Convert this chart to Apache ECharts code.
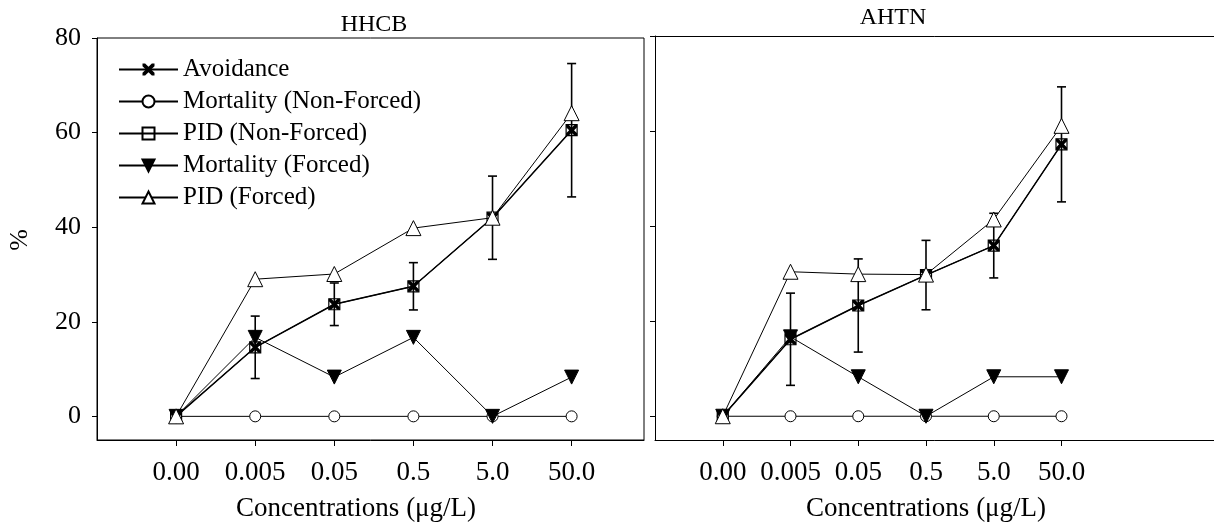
<!DOCTYPE html>
<html>
<head>
<meta charset="utf-8">
<script src="https://cdn.jsdelivr.net/npm/echarts@6/dist/echarts.min.js"></script>
<style>
html,body{margin:0;padding:0;background:#fff;overflow:hidden;}
#chart{width:1214px;height:526px;}
</style>
</head>
<body>
<div id="chart"></div>
<script>
// ---- data ----
const categories = ['0.00', '0.005', '0.05', '0.5', '5.0', '50.0'];
const yTicks = [0, 20, 40, 60, 80];
const seriesNames = ['Avoidance', 'Mortality (Non-Forced)', 'PID (Non-Forced)', 'Mortality (Forced)', 'PID (Forced)'];

const hhcbAvoidance = [0, 14.6, 23.7, 27.5, 42.0, 60.5];
const hhcbMortNF    = [0, 0, 0, 0, 0, 0];
const hhcbPidNF     = [0, 14.6, 23.7, 27.5, 42.0, 60.5];
const hhcbMortF     = [0, 16.7, 8.3, 16.7, 0, 8.3];
const hhcbPidF      = [0, 29.0, 30.1, 39.8, 42.0, 64.1];
const hhcbErr       = [0, 6.6, 4.5, 5.0, 8.8, 14.1];

const ahtnAvoidance = [0, 16.2, 23.3, 29.7, 35.9, 57.2];
const ahtnMortNF    = [0, 0, 0, 0, 0, 0];
const ahtnPidNF     = [0, 16.2, 23.3, 29.7, 35.9, 57.2];
const ahtnMortF     = [0, 16.7, 8.3, 0, 8.3, 8.3];
const ahtnPidF      = [0, 30.4, 29.9, 29.8, 41.4, 61.1];
const ahtnErr       = [0, 9.7, 9.8, 7.3, 6.8, 12.1];

// ---- styling ----
const FONT = 'Liberation Serif';
const crossPath = 'path://M0,0 L2.2,0 L5,2.8 L7.8,0 L10,0 L10,2.2 L7.2,5 L10,7.8 L10,10 L7.8,10 L5,7.2 L2.2,10 L0,10 L0,7.8 L2.8,5 L0,2.2 Z';

function pts(arr) { return arr.map((v, i) => [i, v]); }

function lineSeries(name, values, gi, opts) {
  return Object.assign({
    name: name,
    type: 'line',
    xAxisIndex: gi,
    yAxisIndex: gi,
    data: pts(values),
    showAllSymbol: true,
    animation: false,
    clip: false,
    lineStyle: { color: '#000', width: 1 },
    itemStyle: { color: '#fff', borderColor: '#000', borderWidth: 1 },
    emphasis: { disabled: true }
  }, opts);
}

function panelSeries(gi, av, mnf, pnf, mf, pf, err) {
  return [
    {
      type: 'custom',
      xAxisIndex: gi,
      yAxisIndex: gi,
      z: 1,
      animation: false,
      silent: true,
      clip: false,
      data: av.map((v, i) => [i, v - err[i], v + err[i]]),
      renderItem: function (params, api) {
        const x = api.value(0);
        const lo = api.coord([x, api.value(1)]);
        const hi = api.coord([x, api.value(2)]);
        if (api.value(2) - api.value(1) <= 0) return null;
        const hw = 4.5;
        const st = { stroke: '#000', lineWidth: 1.6, fill: null };
        return {
          type: 'group',
          children: [
            { type: 'line', shape: { x1: lo[0], y1: lo[1], x2: hi[0], y2: hi[1] }, style: st },
            { type: 'line', shape: { x1: lo[0] - hw, y1: lo[1], x2: lo[0] + hw, y2: lo[1] }, style: st },
            { type: 'line', shape: { x1: hi[0] - hw, y1: hi[1], x2: hi[0] + hw, y2: hi[1] }, style: st }
          ]
        };
      }
    },
    lineSeries(seriesNames[1], mnf, gi, { symbol: 'circle', symbolSize: 11, z: 2 }),
    lineSeries(seriesNames[3], mf, gi, { symbol: 'triangle', symbolRotate: 180, symbolSize: 14, z: 3,
      itemStyle: { color: '#000', borderColor: '#000', borderWidth: 1 } }),
    lineSeries(seriesNames[2], pnf, gi, { symbol: 'rect', symbolSize: 11, z: 4,
      itemStyle: { color: 'rgba(255,255,255,0)', borderColor: '#000', borderWidth: 1.2 } }),
    lineSeries(seriesNames[0], av, gi, { symbol: crossPath, symbolSize: 11, z: 5,
      lineStyle: { color: '#000', width: 1.5 },
      itemStyle: { color: '#000', borderColor: '#000', borderWidth: 0 } }),
    lineSeries(seriesNames[4], pf, gi, { symbol: 'triangle', symbolSize: 15, z: 6 })
  ];
}

function xAxisCfg(gi, max) {
  return {
    type: 'value', gridIndex: gi, min: -1, max: max,
    axisLine: { show: true, onZero: false, lineStyle: { color: '#000', width: 1 } },
    axisTick: { show: true, inside: false, length: 6, customValues: categories.map((c, i) => i), lineStyle: { color: '#000' } },
    axisLabel: {
      show: true, margin: 19, customValues: categories.map((c, i) => i),
      formatter: v => categories[Math.round(v)],
      color: '#000', fontFamily: FONT, fontSize: 27
    },
    splitLine: { show: false }
  };
}

// top border line for the right panel (no ticks/labels)
function topBorderAxis(gi, max) {
  return {
    type: 'value', gridIndex: gi, position: 'top', min: -1, max: max,
    axisLine: { show: true, onZero: false, lineStyle: { color: '#000', width: 1 } },
    axisTick: { show: false }, axisLabel: { show: false }, splitLine: { show: false }
  };
}

function yAxisCfg(gi, showLabels) {
  return {
    type: 'value', gridIndex: gi, min: -5, max: 80,
    axisLine: { show: true, onZero: false, lineStyle: { color: '#000', width: 1 } },
    axisTick: { show: true, inside: false, length: 5, customValues: yTicks, lineStyle: { color: '#000' } },
    axisLabel: { show: showLabels, margin: 16, customValues: yTicks, color: '#000', fontFamily: FONT, fontSize: 26 },
    splitLine: { show: false }
  };
}

const rightWidth = 600;
const rightMax = rightWidth / 67.75 - 1;

const chart = echarts.init(document.getElementById('chart'), null, { renderer: 'canvas' });
chart.setOption({
  backgroundColor: '#fff',
  animation: false,
  grid: [
    { left: 97, top: 38, width: 547, height: 402, show: true, borderColor: '#000', borderWidth: 1, backgroundColor: 'transparent', outerBoundsMode: 'none' },
    { left: 655, top: 36, width: rightWidth, height: 404, show: false, outerBoundsMode: 'none' }
  ],
  xAxis: [xAxisCfg(0, 5.915), xAxisCfg(1, rightMax), topBorderAxis(1, rightMax)],
  yAxis: [yAxisCfg(0, true), yAxisCfg(1, false)],
  legend: {
    data: seriesNames,
    orient: 'vertical',
    left: 113,
    top: 52,
    itemWidth: 59,
    itemHeight: 15,
    itemGap: 7,
    selectedMode: false,
    textStyle: { color: '#000', fontFamily: FONT, fontSize: 25, lineHeight: 25 }
  },
  graphic: [
    { type: 'text', x: 374, y: 25, style: { text: 'HHCB', fill: '#000', fontFamily: FONT, fontSize: 24, align: 'center', verticalAlign: 'middle' } },
    { type: 'text', x: 893, y: 18, style: { text: 'AHTN', fill: '#000', fontFamily: FONT, fontSize: 24, align: 'center', verticalAlign: 'middle' } },
    { type: 'text', x: 356, y: 509, style: { text: 'Concentrations (μg/L)', fill: '#000', fontFamily: FONT, fontSize: 27, align: 'center', verticalAlign: 'middle' } },
    { type: 'text', x: 926, y: 509, style: { text: 'Concentrations (μg/L)', fill: '#000', fontFamily: FONT, fontSize: 27, align: 'center', verticalAlign: 'middle' } },
    { type: 'text', x: 20, y: 240, rotation: Math.PI / 2, style: { text: '%', fill: '#000', fontFamily: FONT, fontSize: 26, align: 'center', verticalAlign: 'middle' } }
  ],
  series: [].concat(
    panelSeries(0, hhcbAvoidance, hhcbMortNF, hhcbPidNF, hhcbMortF, hhcbPidF, hhcbErr),
    panelSeries(1, ahtnAvoidance, ahtnMortNF, ahtnPidNF, ahtnMortF, ahtnPidF, ahtnErr)
  )
});
</script>
</body>
</html>
